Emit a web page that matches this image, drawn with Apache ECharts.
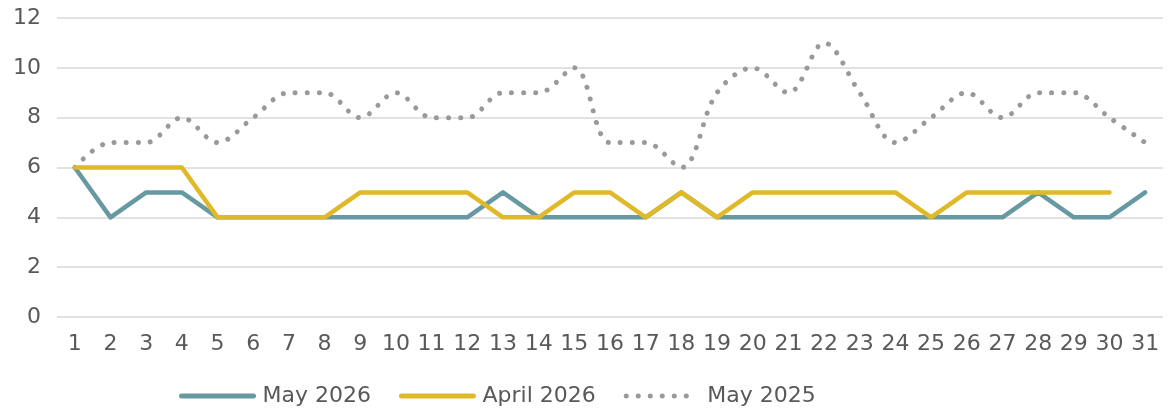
<!DOCTYPE html>
<html>
<head>
<meta charset="utf-8">
<script src="https://cdn.jsdelivr.net/npm/echarts@6/dist/echarts.min.js"></script>
<style>
    html, body { margin: 0; padding: 0; background: #fff; }
    #chart { width: 1171px; height: 417px; }
</style>
</head>
<body>
<div id="chart"></div>
<script>
const days = Array.from({ length: 31 }, (_, i) => String(i + 1));
const may2026 = [6, 4, 5, 5, 4, 4, 4, 4, 4, 4, 4, 4, 5, 4, 4, 4, 4, 5, 4, 4, 4, 4, 4, 4, 4, 4, 4, 5, 4, 4, 5];
const april2026 = [6, 6, 6, 6, 4, 4, 4, 4, 5, 5, 5, 5, 4, 4, 5, 5, 4, 5, 4, 5, 5, 5, 5, 5, 4, 5, 5, 5, 5, 5, null];
const may2025 = [6, 7, 7, 8, 7, 8, 9, 9, 8, 9, 8, 8, 9, 9, 10, 7, 7, 6, 9, 10, 9, 11, 9, 7, 8, 9, 8, 9, 9, 8, 7];

const textColor = "#595959";
const fontFamily = "'DejaVu Sans', sans-serif";

const chart = echarts.init(document.getElementById("chart"));

const option = {
    animation: false,
    textStyle: { fontFamily },
    grid: {
        top: 18,
        right: 8,
        bottom: 100,
        left: 57,
    },
    legend: {
        bottom: 5,
        left: 174,
        itemWidth: 72,
        itemHeight: 10,
        itemGap: 28,
        itemStyle: { opacity: 0 },
        lineStyle: { width: 5, cap: "round" },
        textStyle: { color: textColor, fontSize: 22, fontFamily, padding: [0, 0, 0, 4] },
        data: ["May 2026", "April 2026", "May 2025"],
    },
    xAxis: {
        type: "category",
        data: days,
        boundaryGap: true,
        axisLine: { show: false },
        axisTick: { show: false },
        axisLabel: { color: textColor, fontSize: 22, margin: 16, interval: 0 },
    },
    yAxis: {
        type: "value",
        min: 0,
        max: 12,
        interval: 2,
        axisLabel: { color: textColor, fontSize: 22, margin: 16 },
        splitLine: { lineStyle: { color: "#d9d9d9", width: 1.5 } },
    },
    series: [
        {
            name: "May 2026",
            type: "line",
            data: may2026,
            showSymbol: false,
            symbol: "none",
            lineStyle: { color: "#6699a1", width: 4.5, cap: "round", join: "round" },
            itemStyle: { color: "#6699a1" },
            z: 3,
        },
        {
            name: "April 2026",
            type: "line",
            data: april2026,
            showSymbol: false,
            symbol: "none",
            lineStyle: { color: "#e0b929", width: 4.5, cap: "round", join: "round" },
            itemStyle: { color: "#e0b929" },
            z: 4,
        },
        {
            name: "May 2025",
            type: "line",
            data: may2025,
            smooth: 0.35,
            showSymbol: false,
            symbol: "none",
            lineStyle: { color: "#999999", width: 5, type: [0.01, 12], cap: "round" },
            itemStyle: { color: "#999999" },
            z: 2,
        },
    ],
};

chart.setOption(option);
</script>
</body>
</html>
